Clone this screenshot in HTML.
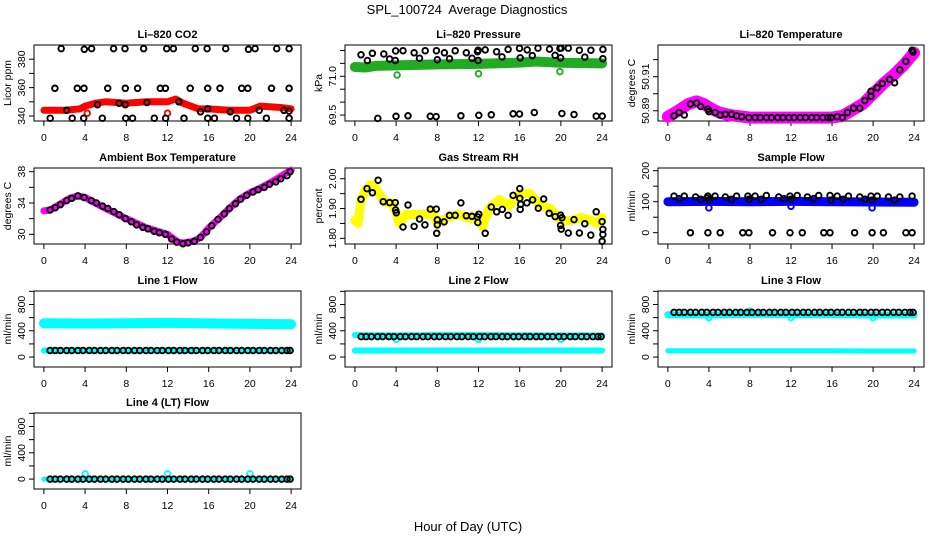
<!DOCTYPE html>
<html><head><meta charset="utf-8"><style>
body{margin:0;background:#fff;}
svg{display:block;font-family:"Liberation Sans",sans-serif;}
</style></head><body>
<svg id="chart" width="936" height="540" viewBox="0 0 936 540">
<rect width="936" height="540" fill="#fff"/>
<text x="467" y="14" font-size="13" text-anchor="middle" xml:space="preserve">SPL_100724  Average Diagnostics</text>
<text x="468" y="531" font-size="13" text-anchor="middle">Hour of Day (UTC)</text>
</svg>
<script>
// ---- data arrays ----
var xTicks = [0,4,8,12,16,20,24];

// CO2
var co2BandH = [0,2,3.5,4,5,6,8,10,12,12.8,13.5,15,16,18,20,21,23,24];
var co2BandV = [344,344,345,347,349,350,349,350,350,352,349,345,345,344,344,347,346,345];
var co2CircH = [1.68,3.92,4.63,6.77,7.87,9.68,11.92,12.57,14.7,15.84,17.65,19.86,20.5,22.6,23.8,
  1.07,3.24,3.89,6.19,7.9,9.1,11.3,11.8,14.2,15.9,17.1,19.2,19.8,22.1,23.8,
  0.61,2.75,3.86,5.67,7.94,8.6,10.72,11.82,13.6,15.9,16.55,18.7,19.8,21.6,23.8,
  2.2,5.2,7.3,7.9,10,13.1,15.2,15.9,18.1,20.9,23.3,23.8];
var co2CircV = [387.5,387,387.5,387.5,387.5,387.5,387.5,387.5,387.5,387.5,387.5,387,387.5,387.5,387.5,
  359.5,359.5,359.5,359.5,359.5,359.5,359.5,359.5,359.5,359.5,359.5,359.5,359.5,359.5,359.5,
  338.5,338.5,338.5,338.5,338.5,338.5,338.5,338.5,338.5,338.5,338.5,338.5,338.5,338.5,338.5,
  344,348,349,348,349.5,350,343,345,343,344,344,343.5];
var co2OutH = [4.2,12.0];
var co2OutV = [342,342];

// Pressure
var prBandH = [0,1,2,4,8,12,16,17.5,20,24];
var prBandV = [71.36,71.34,71.40,71.42,71.46,71.48,71.53,71.57,71.52,71.50];
var prCircH = [0.59,1.70,2.81,3.95,4.67,5.75,6.83,7.91,8.69,9.74,10.82,11.90,11.96,12.65,13.76,14.87,15.98,16.73,17.78,18.89,19.9,20.03,20.72,21.80,22.91,24.08,
  1.21,3.37,3.92,6.27,8.0,9.18,11.37,11.96,14.28,16.05,17.22,19.44,19.97,22.32,24.08,
  2.22,3.99,5.16,7.32,7.88,10.29,12.03,13.24,15.36,15.98,17.42,20.1,21.27,23.43,24.02];
var prCircV = [71.83,71.89,71.86,71.98,71.99,71.91,71.99,71.99,71.91,71.99,71.91,71.95,72.01,72.02,71.95,72.04,72.08,72.02,72.09,72.05,72.08,72.09,72.09,72.01,72.01,72.04,
  71.61,71.67,71.61,71.70,71.64,71.68,71.70,71.61,71.75,71.71,71.80,71.81,71.71,71.74,71.68,
  69.37,69.45,69.47,69.45,69.44,69.47,69.49,69.51,69.55,69.54,69.6,69.56,69.52,69.46,69.46];
var prOutH = [4.1,12.0,19.9];
var prOutV = [71.05,71.1,71.18];

// Li-820 temperature
var ltBandH = [0,1,2,2.8,3.5,4.3,5,6,8,16,17,18,19,20,21,22,23,24];
var ltBandV = [50.8865,50.890,50.894,50.8955,50.894,50.891,50.889,50.8875,50.886,50.886,50.887,50.8905,50.894,50.900,50.906,50.911,50.917,50.924];
var ltCircH = [0.6,1.1,1.6,2.2,2.8,3.2,3.9,4.0,4.6,5.1,5.6,6.2,6.7,7.2,7.9,8.5,9.0,9.6,10.1,10.7,11.2,11.8,12.3,12.9,13.4,14.0,14.5,15.1,15.6,15.9,16.5,17.0,17.5,18.1,18.7,19.2,19.8,19.8,20.4,20.9,21.6,22.1,22.6,23.2,23.8,23.9];
var ltCircV = [50.887,50.889,50.8875,50.894,50.8945,50.8925,50.891,50.8895,50.889,50.8875,50.888,50.888,50.887,50.8865,50.886,50.886,50.886,50.886,50.886,50.886,50.886,50.886,50.886,50.886,50.886,50.886,50.886,50.886,50.886,50.886,50.8865,50.886,50.889,50.8915,50.8915,50.896,50.8985,50.9015,50.9035,50.906,50.9085,50.9065,50.914,50.919,50.9255,50.9245];

// Ambient box temperature
var abBandH = [0,0.6,1.5,2.5,3.3,4,5,6,8,10,12,13,13.5,14.5,15.2,16,17,18,19,20,21,22,23,24];
var abBandV = [33.0,33.1,33.8,34.6,34.9,34.7,34.0,33.3,32.0,30.8,30.0,29.0,28.9,29.1,29.6,30.8,32.0,33.3,34.5,35.3,35.9,36.6,37.4,38.2];
var abCircH = [0.6,1.1,1.6,2.2,2.7,3.3,3.9,4.6,5.1,5.7,6.2,6.8,7.3,7.9,8.5,9.0,9.6,10.1,10.7,11.2,11.8,12.4,12.9,13.5,14.0,14.6,15.2,15.8,16.3,16.9,17.5,18.0,18.6,19.1,19.7,20.3,20.8,21.4,21.9,22.5,23.0,23.6,23.9];
var abCircV = [33.1,33.4,33.8,34.3,34.6,34.9,34.7,34.3,34.0,33.6,33.3,32.9,32.5,32.0,31.6,31.2,30.9,30.7,30.4,30.2,30.0,29.4,29.0,28.8,28.9,29.1,29.6,30.3,31.1,31.9,32.6,33.3,33.9,34.5,35.0,35.4,35.7,36.0,36.4,36.7,37.1,37.5,38.0];

// Gas stream RH
var rhBandH = [0,0.3,0.6,1,1.5,2,2.5,3,3.5,4,4.3,5,6,7,7.5,8,9,10,11,12,12.4,13,14,15,16,17,18,19,20,21,22,23,23.5,24];
var rhBandV = [1.86,1.85,1.93,1.96,1.98,1.97,1.94,1.92,1.92,1.89,1.85,1.88,1.88,1.88,1.89,1.85,1.87,1.88,1.87,1.86,1.84,1.90,1.93,1.91,1.95,1.95,1.91,1.90,1.86,1.86,1.87,1.86,1.85,1.87];
var rhCircH = [0.59,1.18,1.7,2.25,2.75,3.37,3.92,3.95,4.02,4.67,5.16,5.75,6.27,6.8,7.32,7.9,7.94,8.0,8.0,8.66,9.18,9.74,10.29,10.82,11.37,11.9,11.93,12.03,12.65,13.24,13.76,14.31,14.87,15.36,16.01,16.01,16.05,16.1,16.7,17.25,17.81,18.33,18.86,19.44,19.97,20.03,19.97,20.1,20.72,21.27,21.8,22.32,22.9,23.43,24.0,24.08,24.08,24.0];
var rhCircV = [1.931,1.967,1.953,1.995,1.923,1.920,1.920,1.895,1.886,1.838,1.912,1.840,1.865,1.845,1.898,1.898,1.817,1.845,1.862,1.855,1.877,1.877,1.919,1.876,1.874,1.872,1.853,1.881,1.817,1.905,1.889,1.897,1.877,1.944,1.967,1.934,1.897,1.914,1.919,1.929,1.901,1.932,1.884,1.873,1.843,1.831,1.878,1.869,1.818,1.863,1.818,1.849,1.811,1.889,1.856,1.830,1.813,1.790];

// Sample flow
var sfBandH = [0,4,8,12,16,20,24];
var sfBandV = [100,101,100,101,100,99,98];
var sfCircH = [0.6,1.1,1.6,2.7,3.2,3.8,3.9,4.0,4.6,5.6,6.2,6.7,7.8,7.9,8.5,9.1,9.6,10.8,11.3,11.9,12.0,12.6,13.6,14.2,14.7,15.8,15.9,16.5,17.1,17.6,18.7,19.2,19.8,19.9,20.4,21.5,22.1,22.6,23.8,
  2.2,3.9,5.1,7.3,7.9,10.2,11.9,13.1,15.2,15.8,18.2,19.9,21.0,23.2,23.8];
var sfCircV = [118,110,118,115,108,112,118,105,118,115,108,118,118,108,118,108,120,115,110,118,108,120,115,110,120,120,105,118,108,118,115,108,118,105,118,115,105,115,118,
  0,0,0,0,0,0,0,0,0,0,0,0,0,0,0];
var sfOutH = [4.0,12.0,19.9];
var sfOutV = [80,85,80];

// Line flows (shared circle hours)
var lineCircH = [0.6,1.1,1.6,2.2,2.7,3.3,3.8,4.4,4.9,5.5,6.0,6.6,7.1,7.7,8.2,8.8,9.3,9.9,10.4,11.0,11.5,12.1,12.6,13.2,13.7,14.3,14.8,15.4,15.9,16.5,17.0,17.6,18.1,18.7,19.2,19.8,20.3,20.9,21.4,22.0,22.5,23.1,23.6,23.9];
var l1BandH = [0,4,8,12,16,20,24];
var l1HighV = [515,510,515,520,512,505,500];
var l1LowV = [100,100,100,100,100,100,100];
var l1CircV = 100;
var l2HighV = [335,330,335,335,333,330,330];
var l2LowV = [100,100,100,100,100,100,100];
var l2CircV = 312;
var l2OutH = [4.0,12.0,20.0];
var l2OutV = [270,270,270];
var l3HighV = [645,640,650,645,645,640,640];
var l3LowV = [95,95,95,95,95,92,92];
var l3CircV = 680;
var l3OutH = [4.0,8.0,12.0,20.0];
var l3OutV = [600,700,600,600];
var l4BandV = [0,0,0,0,0,0,0];
var l4CircV = 0;
var l4OutH = [4.0,12.0,20.0];
var l4OutV = [78,78,78];

// ---- layout ----
var NS = 'http://www.w3.org/2000/svg';
var svg = document.getElementById('chart');
var colX = [[34,301],[345,612],[658,924]];
var rowY = [45,168,291,413];
var BH = 76;
function mk(tag, attrs, parent){
  var e = document.createElementNS(NS, tag);
  for (var k in attrs) e.setAttribute(k, attrs[k]);
  (parent||svg).appendChild(e);
  return e;
}
function panel(col,row,title,ylab,ydom,yticks,ylabels,slug){
  var g = mk('g',{});
  
  
  var L=colX[col][0],R=colX[col][1],T=rowY[row],B=T+BH;
  var sx=function(h){return L+(h+0.96)*(R-L)/25.92;};
  var sy=function(v){return B-(v-ydom[0])*BH/(ydom[1]-ydom[0]);};
  var t=mk('text',{x:(L+R)/2,y:T-7,'font-size':11,'font-weight':'bold','text-anchor':'middle'},g);
  t.textContent=title;
  
  
  var box=mk('rect',{x:L,y:T,width:R-L,height:BH,fill:'none',stroke:'#000','stroke-width':1},g);
  
  
  mk('line',{x1:sx(0),x2:sx(24),y1:B,y2:B,stroke:'#000'},g);
  xTicks.forEach(function(h){
    mk('line',{x1:sx(h),x2:sx(h),y1:B,y2:B+5,stroke:'#000'},g);
    var tl=mk('text',{x:sx(h),y:B+20,'font-size':10.5,'text-anchor':'middle'},g);
    tl.textContent=h;
    
    
  });
  mk('line',{x1:L,x2:L,y1:sy(yticks[0]),y2:sy(yticks[yticks.length-1]),stroke:'#000'},g);
  yticks.forEach(function(v){
    mk('line',{x1:L-5,x2:L,y1:sy(v),y2:sy(v),stroke:'#000'},g);
  });
  ylabels.forEach(function(v){
    var yy=sy(parseFloat(v));
    var tl=mk('text',{x:L-9,y:yy,'font-size':10.5,'text-anchor':'middle',transform:'rotate(-90 '+(L-9)+' '+yy+')'},g);
    tl.textContent=v;
    
    
  });
  var yt=mk('text',{x:L-23,y:(T+B)/2,'font-size':10.5,'text-anchor':'middle',transform:'rotate(-90 '+(L-23)+' '+((T+B)/2)+')'},g);
  yt.textContent=ylab;
  
  
  return {g:g,sx:sx,sy:sy};
}
function band(p,H,V,color,w,name){
  var pts=H.map(function(h,i){return p.sx(h).toFixed(1)+','+p.sy(V[i]).toFixed(1);}).join(' ');
  var e=mk('polyline',{points:pts,fill:'none',stroke:color,'stroke-width':w,'stroke-linejoin':'round','stroke-linecap':'round'},p.g);
  
  
}
function circles(p,H,V,color,name){
  H.forEach(function(h,i){
    var v = (typeof V==='number')?V:V[i];
    var c=mk('circle',{cx:p.sx(h).toFixed(1),cy:p.sy(v).toFixed(1),r:2.8,fill:'none',stroke:color,'stroke-width':1.9},p.g);
    
    
  });
}
var p;
p=panel(0,0,'Li\u2013820 CO2','Licor ppm',[336.5,390],[340,350,360,370,380],['340','360','380'],'co2');
band(p,co2BandH,co2BandV,'#ff0000',7,'co2-band');
circles(p,co2OutH,co2OutV,'#ff0000','co2-outlier');
circles(p,co2CircH,co2CircV,'#000','co2-point');

p=panel(1,0,'Li\u2013820 Pressure','kPa',[69.27,72.21],[69.5,70,70.5,71,71.5,72],['69.5','71.0'],'pressure');
band(p,prBandH,prBandV,'#22aa22',10,'pressure-band');
circles(p,prOutH,prOutV,'#22aa22','pressure-outlier');
circles(p,prCircH,prCircV,'#000','pressure-point');

p=panel(2,0,'Li\u2013820 Temperature','degrees C',[50.884,50.9286],[50.89,50.9,50.91,50.92],['50.89','50.91'],'li820-temp');
band(p,ltBandH,ltBandV,'#ff00ff',12,'li820-temp-band');
circles(p,ltCircH,ltCircV,'#000','li820-temp-point');

p=panel(0,1,'Ambient Box Temperature','degrees C',[28.76,38.47],[30,32,34,36,38],['30','34','38'],'ambient');
band(p,abBandH,abBandV,'#ff00ff',7,'ambient-band');
circles(p,abCircH,abCircV,'#000','ambient-point');

p=panel(1,1,'Gas Stream RH','percent',[1.781,2.036],[1.80,1.85,1.90,1.95,2.00],['1.80','1.90','2.00'],'rh');
band(p,rhBandH,rhBandV,'#ffff00',9,'rh-band');
circles(p,rhCircH,rhCircV,'#000','rh-point');

p=panel(2,1,'Sample Flow','ml/min',[-36.5,208.7],[0,50,100,150,200],['0','100','200'],'sample-flow');
band(p,sfBandH,sfBandV,'#0000ff',9,'sample-flow-band');
circles(p,sfOutH,sfOutV,'#0000ff','sample-flow-outlier');
circles(p,sfCircH,sfCircV,'#000','sample-flow-point');

var fdom=[-151,1005], fticks=[0,200,400,600,800,1000], flab=['0','400','800'];
p=panel(0,2,'Line 1 Flow','ml/min',fdom,fticks,flab,'line1');
band(p,l1BandH,l1HighV,'#00ffff',10,'line1-high-band');
band(p,l1BandH,l1LowV,'#00ffff',6,'line1-low-band');
circles(p,lineCircH,l1CircV,'#000','line1-point');

p=panel(1,2,'Line 2 Flow','ml/min',fdom,fticks,flab,'line2');
band(p,l1BandH,l2HighV,'#00ffff',6,'line2-high-band');
band(p,l1BandH,l2LowV,'#00ffff',6,'line2-low-band');
circles(p,l2OutH,l2OutV,'#00ffff','line2-outlier');
circles(p,lineCircH,l2CircV,'#000','line2-point');

p=panel(2,2,'Line 3 Flow','ml/min',fdom,fticks,flab,'line3');
band(p,l1BandH,l3HighV,'#00ffff',7,'line3-high-band');
band(p,l1BandH,l3LowV,'#00ffff',5,'line3-low-band');
circles(p,l3OutH,l3OutV,'#00ffff','line3-outlier');
circles(p,lineCircH,l3CircV,'#000','line3-point');

p=panel(0,3,'Line 4 (LT) Flow','ml/min',fdom,fticks,flab,'line4');
band(p,l1BandH,l4BandV,'#00ffff',5,'line4-band');
circles(p,l4OutH,l4OutV,'#00ffff','line4-outlier');
circles(p,lineCircH,l4CircV,'#000','line4-point');
</script>
</body></html>
